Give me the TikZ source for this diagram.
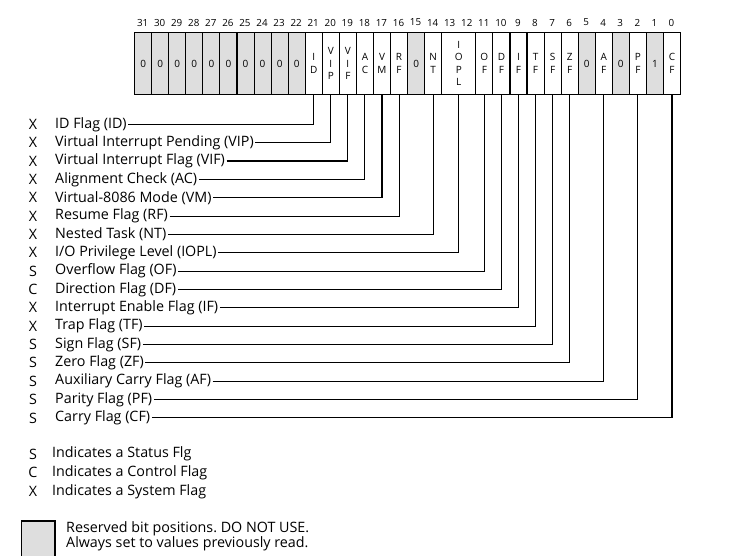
\documentclass[tikz,border=0pt]{standalone}
\usepackage{fontspec}
\setmainfont{Open Sans}
\definecolor{rsvdgray}{HTML}{DEDEDE}
\frenchspacing

\begin{document}
\begin{tikzpicture}[x=1pt,y=-1pt]
\tikzstyle{cell}=[draw,line width=1.1pt,minimum width=17.06pt,minimum height=62pt,inner sep=0pt,anchor=north west,align=center,font=\fontsize{10}{12.5}\selectfont]
\tikzstyle{rsvd}=[cell,fill=rsvdgray]
\tikzstyle{bitno}=[inner sep=0pt,font=\fontsize{9.8}{10}\selectfont]
\tikzstyle{kind}=[inner sep=1pt,font=\fontsize{14.3}{15}\selectfont]
\tikzstyle{flag}=[anchor=west,inner sep=1.5pt,font=\fontsize{14.3}{15}\selectfont]
\tikzstyle{wire}=[line width=1.1pt]

\useasboundingbox (0,0) rectangle (752,555);
\clip (0,0) rectangle (752,555);

% bit numbers over the register
\foreach \b in {0,...,31}
  \node[bitno] (n\b) at ({680-17.06*\b-8.53},22.5) {\b};

% reserved bits
\foreach \b in {31,...,22}
  \node[rsvd] (b\b) at ({680-17.06*(\b+1)},32) {0};
\foreach \b/\v in {15/0,5/0,3/0,1/1}
  \node[rsvd] (b\b) at ({680-17.06*(\b+1)},32) {\v};

% flag bits
\foreach \b/\t in {21/{I\\D},20/{V\\I\\P},19/{V\\I\\F},18/{A\\C},17/{V\\M},16/{R\\F},
                   14/{N\\T},11/{O\\F},10/{D\\F},9/{I\\F},8/{T\\F},7/{S\\F},6/{Z\\F},
                   4/{A\\F},2/{P\\F},0/{C\\F}}
  \node[cell] (b\b) at ({680-17.06*(\b+1)},32) {\t};
\node[cell,minimum width=34.12pt] (b12) at ({680-17.06*14},32) {I\\O\\P\\L};

% flag list with connectors
\foreach \i/\b/\k/\t in {0/21/X/ID Flag (ID),1/20/X/Virtual Interrupt Pending (VIP),
    2/19/X/Virtual Interrupt Flag (VIF),3/18/X/Alignment Check (AC),
    4/17/X/Virtual-8086 Mode (VM),5/16/X/Resume Flag (RF),6/14/X/Nested Task (NT),
    7/12/X/{I/O Privilege Level (IOPL)},8/11/S/Overflow Flag (OF),
    9/10/C/Direction Flag (DF),10/9/X/Interrupt Enable Flag (IF),11/8/X/Trap Flag (TF),
    12/7/S/Sign Flag (SF),13/6/S/Zero Flag (ZF),14/4/S/Auxiliary Carry Flag (AF),
    15/2/S/Parity Flag (PF),16/0/S/Carry Flag (CF)}
{
  \node[kind] (k\i) at (33,{124.3+18.35*\i}) {\k};
  \node[flag] (f\i) at (53.5,{124.3+18.35*\i}) {\t};
  \draw[wire] (f\i.east) -| (b\b.south);
}

% legend
\node[kind] (ks) at (33,454) {S};
\node[flag] (ls) at (50.5,454) {Indicates a Status Flg};
\node[kind] (kc) at (33,472.7) {C};
\node[flag] (lc) at (50.5,472.7) {Indicates a Control Flag};
\node[kind] (kx) at (33,491.3) {X};
\node[flag] (lx) at (50.5,491.3) {Indicates a System Flag};

\draw[line width=1.1pt,fill=rsvdgray] (21.7,521) rectangle (55,565);
\node[flag,align=left] (lr) at (64.5,535.8) {Reserved bit positions. DO NOT USE.\\Always set to values previously read.};
\end{tikzpicture}
\end{document}
